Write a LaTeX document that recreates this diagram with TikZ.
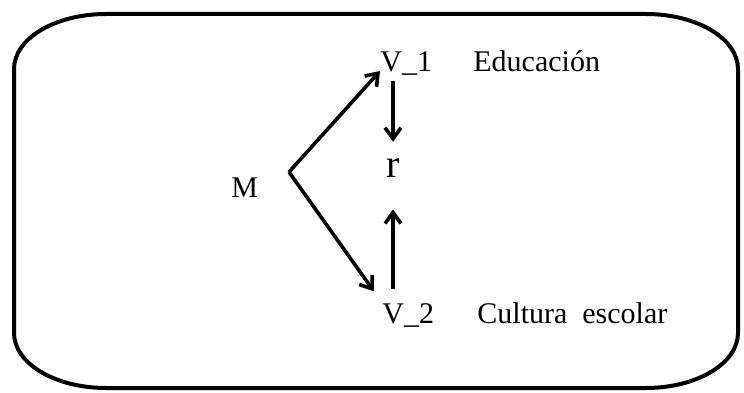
\documentclass[tikz,border=0pt]{standalone}
\usepackage{fontspec}
\setmainfont{Liberation Serif}
\usetikzlibrary{arrows.meta,calc}

\begin{document}
\begin{tikzpicture}[x=0.5pt, y=0.5pt, >={Straight Barb[length=5.5pt,width=8pt]}]
        \tikzset{lbl/.style={inner sep=0pt, anchor=base west, font=\rmfamily\fontsize{15}{18}\selectfont},
                 link/.style={->, line width=1.8pt}}
        \useasboundingbox (0,0) rectangle (744,392);
        % frame with wide rounded corners
        \draw[line width=2pt] (106,378) -- (646,378)
            arc[start angle=90, end angle=0, x radius=92, y radius=55] -- (738,59)
            arc[start angle=0, end angle=-90, x radius=92, y radius=55] -- (106,4)
            arc[start angle=270, end angle=180, x radius=92, y radius=55] -- (14,323)
            arc[start angle=180, end angle=90, x radius=92, y radius=55] -- cycle;
        \coordinate (apex) at (289,220);
        \node[lbl] (m) at (231,195) {M};
        \node[lbl] (v1) at (380,321) {V\_1};
        \node[lbl] (edu) at (473,321) {Educación};
        \node[inner sep=0pt, anchor=base, font=\rmfamily\fontsize{20}{24}\selectfont] (r) at (393,215) {r};
        \node[lbl] (v2) at (382,69) {V\_2};
        \node[lbl] (cult) at (477,69) {Cultura\hspace{0.5em}escolar};
        \draw[link] (apex) -- (v1.base west);
        \draw[link, shorten >=7pt] (apex) -- (v2.north west);
        \draw[link, shorten <=3pt, shorten >=8pt] (v1.south -| r) -- (r.north);
        \draw[link, shorten <=7pt, shorten >=16pt] (v2.north -| r) -- (r.south);
    \end{tikzpicture}
\end{document}
